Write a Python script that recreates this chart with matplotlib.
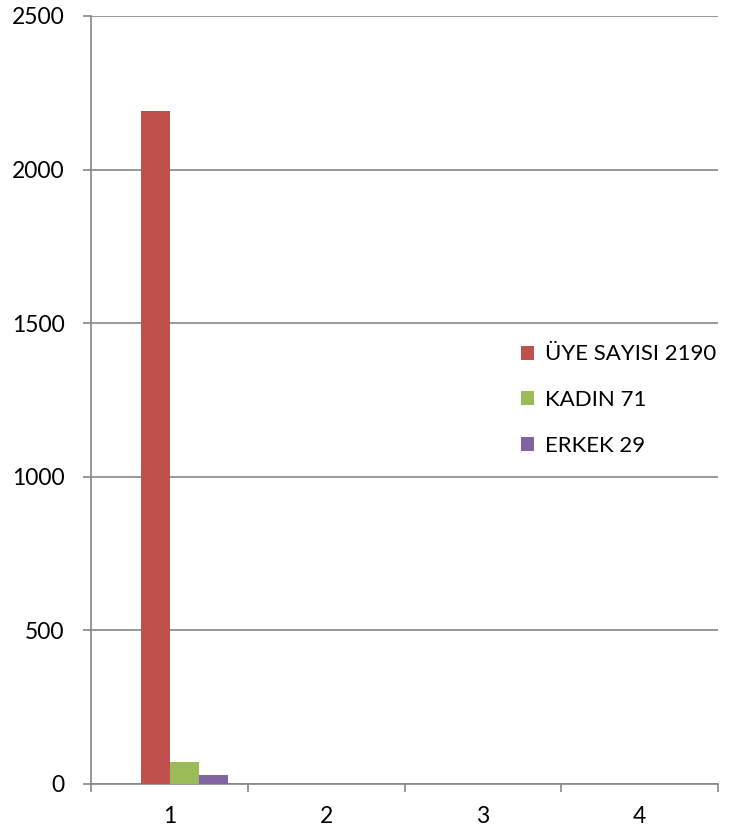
import matplotlib as mpl
import matplotlib.pyplot as plt
import numpy as np
from matplotlib.patches import Patch

mpl.rcParams["font.family"] = ["Lato", "DejaVu Sans"]

# data
categories = [1, 2, 3, 4]
series_names = ["ÜYE SAYISI 2190", "KADIN 71", "ERKEK 29"]
series_values = [
    [2190, 0, 0, 0],
    [71, 0, 0, 0],
    [29, 0, 0, 0],
]
colors = ["#C0504D", "#9BBB59", "#8064A2"]
yticks = [0, 500, 1000, 1500, 2000, 2500]

GRID = "#868686"
BAR_W = 0.185
OFFSETS = [-0.088, 0.097, 0.282]

fig = plt.figure(figsize=(7.36, 8.33), dpi=100)
ax = fig.add_axes([91 / 736, 1 - 784 / 833, (718 - 91) / 736, (784 - 16) / 833])

x = np.arange(len(categories)) + 1
for vals, off, c in zip(series_values, OFFSETS, colors):
    ax.bar(x + off, vals, width=BAR_W, color=c, linewidth=0, zorder=3)

ax.set_xlim(0.5, len(categories) + 0.5)
ax.set_ylim(0, 2500)
ax.set_yticks(yticks)
ax.set_yticklabels([str(v) for v in yticks])
ax.yaxis.grid(True, color=GRID, linewidth=1.2, zorder=0)

# category boundaries as ticks, labels centred
ax.set_xticks(np.arange(0.5, len(categories) + 1, 1.0))
ax.set_xticklabels([])
ax.set_xticks(x, minor=True)
ax.set_xticklabels([str(c) for c in categories], minor=True)
ax.tick_params(axis="x", which="major", length=6, width=1.2, color=GRID, direction="out")
ax.tick_params(axis="x", which="minor", length=0, pad=16, labelsize=16.5)
ax.tick_params(axis="y", length=6, width=1.2, color=GRID, direction="out", pad=13, labelsize=16.5)

for s in ["top", "right"]:
    ax.spines[s].set_visible(False)
for s in ["left", "bottom"]:
    ax.spines[s].set_color(GRID)
    ax.spines[s].set_linewidth(1.2)

handles = [Patch(facecolor=c, edgecolor="none") for c in colors]
ax.legend(handles, series_names, loc="center left", bbox_to_anchor=(0.668, 0.5),
          frameon=False, fontsize=16, handlelength=0.6, handleheight=0.6,
          handletextpad=0.5, labelspacing=1.15, borderpad=0)

fig.savefig("out.png", dpi=100)
